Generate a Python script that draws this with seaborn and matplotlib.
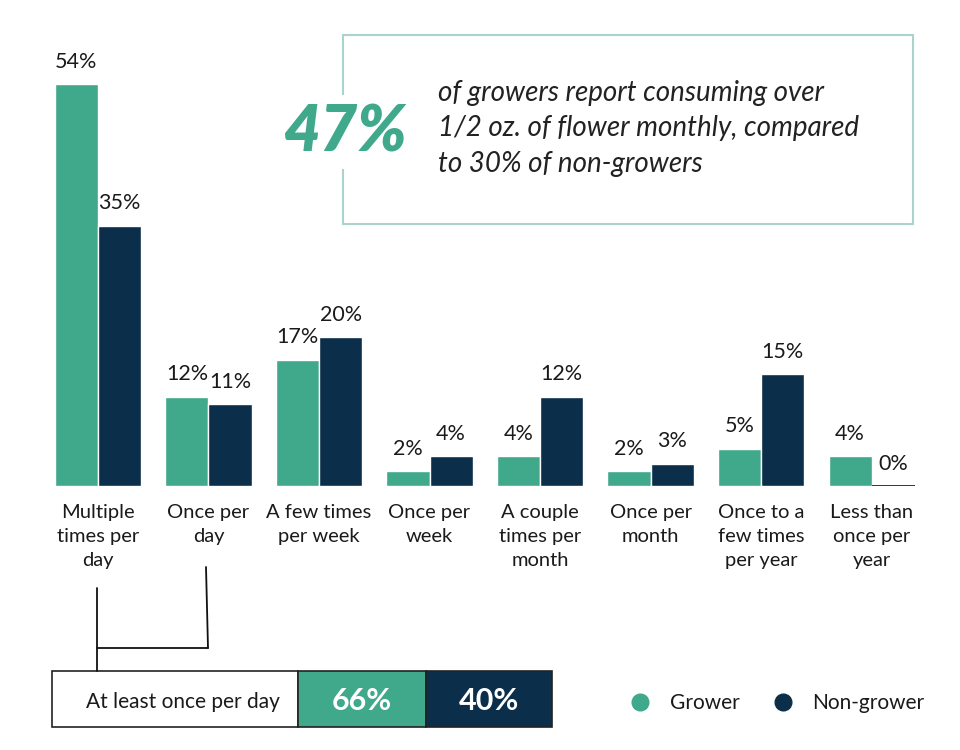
import matplotlib
matplotlib.use("Agg")
import matplotlib.pyplot as plt
from matplotlib.patches import Rectangle
from matplotlib.lines import Line2D
import seaborn as sns
import pandas as pd

# ---- data ----
categories = ["Multiple\ntimes per\nday", "Once per\nday", "A few times\nper week",
              "Once per\nweek", "A couple\ntimes per\nmonth", "Once per\nmonth",
              "Once to a\nfew times\nper year", "Less than\nonce per\nyear"]
grower = [54, 12, 17, 2, 4, 2, 5, 4]
non_grower = [35, 11, 20, 4, 12, 3, 15, 0]
series_names = ["Grower", "Non-grower"]
daily_label = "At least once per day"
daily_values = [66, 40]
highlight_value = 47
highlight_text = "of growers report consuming over\n1/2 oz. of flower monthly, compared\nto 30% of non-growers"

GREEN = "#40A88B"
NAVY = "#0B2E4A"
BORDER = "#A9D3CB"
TXT = "#1a1a1a"

sns.set_theme(style="white")
plt.rcParams["font.family"] = ["Lato", "DejaVu Sans"]

df = pd.DataFrame({
    "category": categories * 2,
    "group": [series_names[0]] * len(categories) + [series_names[1]] * len(categories),
    "value": grower + non_grower,
})

fig = plt.figure(figsize=(9.6, 7.5), dpi=100)
ax = fig.add_axes([0.056, 0.352, 0.898, 0.608])

sns.barplot(data=df, x="category", y="value", hue="group", order=categories,
            hue_order=series_names, palette=[GREEN, NAVY], saturation=1,
            width=0.78, legend=False, ax=ax)

ax.set_xlim(-0.4, len(categories) - 0.6)
ax.set_ylim(0, 61.3)
for s in ax.spines.values():
    s.set_visible(False)
ax.set_yticks([])
ax.set_xlabel("")
ax.set_ylabel("")
ax.tick_params(axis="x", length=0, pad=13)
ax.set_xticks(range(len(categories)))
ax.set_xticklabels(categories, fontsize=14.5, color=TXT, linespacing=1.5,
                   va="top")

for cont, col in zip(ax.containers, [GREEN, NAVY]):
    ax.bar_label(cont, fmt="%d%%", padding=9, fontsize=15.5, color=TXT)
    for p in cont.patches:
        if p.get_height() == 0:
            ax.plot([p.get_x(), p.get_x() + p.get_width()], [0, 0],
                    color=col, lw=1.3, solid_capstyle="butt")

# ---- highlight box ----
fig.add_artist(Rectangle((343 / 960, 1 - 224 / 750), 570 / 960, 189 / 750,
                         transform=fig.transFigure, fill=False,
                         edgecolor=BORDER, lw=1.5))
fig.text(345 / 960, 1 - 132 / 750, f"{highlight_value}%", fontsize=46,
         fontweight="heavy", style="italic", color=GREEN, ha="center",
         va="center",
         bbox=dict(facecolor="white", edgecolor="none", pad=6))
fig.text(438 / 960, 1 - 80 / 750, highlight_text, fontsize=20,
         style="italic", fontweight="normal", color="#222222", ha="left", va="top",
         linespacing=1.45)

# ---- connectors ----
def fline(xs, ys):
    fig.add_artist(Line2D([x / 960 for x in xs], [1 - y / 750 for y in ys],
                          transform=fig.transFigure, color="#111111", lw=1.3))

fline([97, 97], [588, 671])
fline([206, 208], [567, 648])
fline([97, 208], [648, 648])

# ---- bottom summary box ----
bx0, by0, bh = 52, 671, 56
segs = [(52, 246, "white"), (298, 128, GREEN), (426, 126, NAVY)]
for x0, w, c in segs:
    fig.add_artist(Rectangle((x0 / 960, 1 - (by0 + bh) / 750), w / 960, bh / 750,
                             transform=fig.transFigure, facecolor=c,
                             edgecolor="#222222", lw=1.2))
fig.text(183 / 960, 1 - 702 / 750, daily_label, fontsize=15, color=TXT,
         ha="center", va="center")
for (x0, w, c), v in zip(segs[1:], daily_values):
    fig.text((x0 + w / 2) / 960, 1 - 701 / 750, f"{v}%", fontsize=22,
             fontweight="bold", color="white", ha="center", va="center")

# ---- legend ----
handles = [Line2D([], [], marker="o", linestyle="none", markersize=12,
                  markerfacecolor=c, markeredgecolor=c) for c in [GREEN, NAVY]]
fig.legend(handles, series_names, loc="center", bbox_to_anchor=(772 / 960, 1 - 703 / 750),
           ncol=2, frameon=False, fontsize=15, handletextpad=0.4,
           columnspacing=1.1, labelcolor=TXT)

fig.savefig("out.png", dpi=100, facecolor="white")
